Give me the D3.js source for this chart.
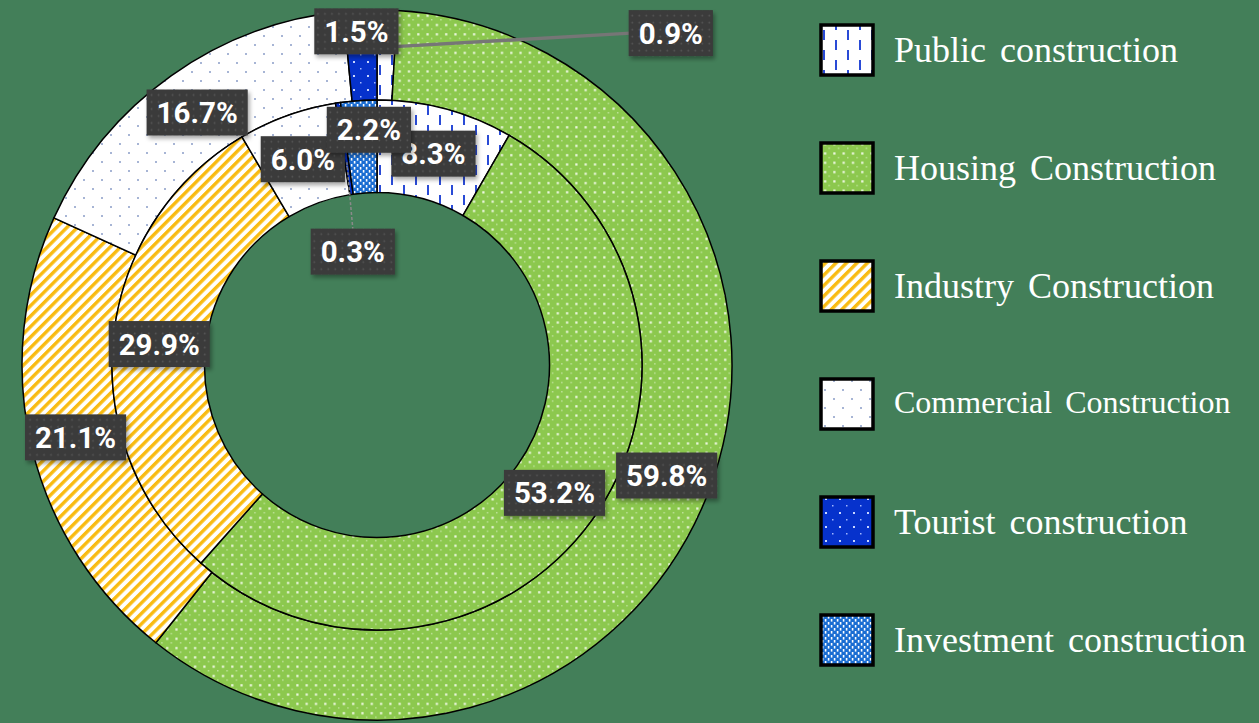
<!DOCTYPE html>
<html>
<head>
<meta charset="utf-8">
<script src="https://cdn.jsdelivr.net/npm/d3@7"></script>
<style>
  html, body { margin: 0; padding: 0; background: #437f59; }
  svg { display: block; }
</style>
</head>
<body>
<svg id="chart" width="1259" height="723"></svg>
<script>
// categories, in legend order (also clockwise order from 12 o'clock)
const categories = [
    "Public construction",
    "Housing Construction",
    "Industry Construction",
    "Commercial Construction",
    "Tourist construction",
    "Investment construction"
];
// outer ring (%)
const outerValues = [0.9, 59.8, 21.1, 16.7, 1.5, 0];
// inner ring (%)
const innerValues = [8.3, 53.2, 29.9, 6.0, 0.3, 2.2];
const patternIds = ["pat-public", "pat-housing", "pat-industry", "pat-commercial", "pat-tourist", "pat-investment"];

document.addEventListener('DOMContentLoaded', function() {
    const svg = d3.select("#chart");
    const width = +svg.attr("width");
    const height = +svg.attr("height");

    const cx = 377, cy = 365;
    const rOuter = 355, rMid = 265, rInner = 172.5;

    svg.append("rect").attr("width", width).attr("height", height).attr("fill", "#437f59");

    const defs = svg.append("defs");

    function makePattern(id, w, h, bg, transform) {
        const p = defs.append("pattern")
            .attr("id", id)
            .attr("patternUnits", "userSpaceOnUse")
            .attr("width", w)
            .attr("height", h);
        if (transform) p.attr("patternTransform", transform);
        p.append("rect").attr("width", w).attr("height", h).attr("fill", bg);
        return p;
    }

    // public: white with staggered blue dashes
    let p = makePattern("pat-public", 24, 20, "#ffffff");
    p.append("rect").attr("x", 2).attr("y", 0).attr("width", 2).attr("height", 10).attr("fill", "#2a4bd6");
    p.append("rect").attr("x", 14).attr("y", 10).attr("width", 2).attr("height", 10).attr("fill", "#2a4bd6");

    // housing: green with white dots
    p = makePattern("pat-housing", 9.3, 9.3, "#8cc84e");
    p.append("rect").attr("x", 3).attr("y", 3).attr("width", 2.2).attr("height", 2.2).attr("fill", "#eef8e2");
    p.append("rect").attr("x", 7.6).attr("y", 7.6).attr("width", 1.2).attr("height", 1.2).attr("fill", "#d7efbe");

    // industry: white with yellow diagonal stripes
    p = makePattern("pat-industry", 7.4, 7.4, "#ffffff", "rotate(45)");
    p.append("rect").attr("x", 0).attr("y", 0).attr("width", 3.4).attr("height", 7.4).attr("fill", "#f9bb12");

    // commercial: white with sparse small dots
    p = makePattern("pat-commercial", 18, 18, "#ffffff");
    p.append("circle").attr("cx", 4).attr("cy", 4).attr("r", 1).attr("fill", "#8a9cc8");
    p.append("circle").attr("cx", 13).attr("cy", 13).attr("r", 1).attr("fill", "#8a9cc8");

    // tourist: blue with white dots
    p = makePattern("pat-tourist", 14, 14, "#0632cc");
    p.append("rect").attr("x", 4).attr("y", 4).attr("width", 2).attr("height", 2).attr("fill", "#c8d6ff");
    p.append("rect").attr("x", 11).attr("y", 11).attr("width", 1.5).attr("height", 1.5).attr("fill", "#9fb5ff");

    // investment: blue checker weave
    p = makePattern("pat-investment", 6, 6, "#1a6dd2");
    p.append("rect").attr("x", 0.8).attr("y", 0).attr("width", 1.6).attr("height", 2.6).attr("fill", "#ffffff");
    p.append("rect").attr("x", 3.8).attr("y", 3).attr("width", 1.6).attr("height", 2.6).attr("fill", "#ffffff");

    // label box texture
    p = makePattern("pat-label", 7, 7, "#3a3a3a");
    p.append("circle").attr("cx", 3.5).attr("cy", 3.5).attr("r", 0.9).attr("fill", "#585858");

    const shadow = defs.append("filter").attr("id", "shadow")
        .attr("x", "-20%").attr("y", "-20%").attr("width", "140%").attr("height", "160%");
    shadow.append("feDropShadow").attr("dx", 2).attr("dy", 3).attr("stdDeviation", 2)
        .attr("flood-color", "#000").attr("flood-opacity", 0.35);

    const pie = d3.pie().sort(null).value(d => d.value);

    function ringData(values) {
        return pie(values.map((v, i) => ({ value: v, cat: categories[i], pat: patternIds[i] })));
    }

    const outerArc = d3.arc().innerRadius(rMid).outerRadius(rOuter);
    const innerArc = d3.arc().innerRadius(rInner).outerRadius(rMid);

    const outerData = ringData(outerValues).filter(d => d.data.value > 0);
    const innerData = ringData(innerValues).filter(d => d.data.value > 0);

    const g = svg.append("g").attr("transform", `translate(${cx},${cy})`);

    g.selectAll("path.outer")
        .data(outerData)
        .join("path")
        .attr("class", "outer")
        .attr("d", outerArc)
        .attr("fill", d => `url(#${d.data.pat})`)
        .attr("stroke", "#000")
        .attr("stroke-width", 1.5);

    g.selectAll("path.inner")
        .data(innerData)
        .join("path")
        .attr("class", "inner")
        .attr("d", innerArc)
        .attr("fill", d => `url(#${d.data.pat})`)
        .attr("stroke", "#000")
        .attr("stroke-width", 1.5);

    // labels sit on the slice centroid; the small slices were dragged aside
    const nudges = {
        "outer|Public construction": [285, -22],
        "outer|Tourist construction": [-6, -24],
        "inner|Investment construction": [7, -17],
        "inner|Tourist construction": [8, 103]
    };

    const labels = [];
    outerData.forEach(d => labels.push({ ring: "outer", d: d, c: outerArc.centroid(d) }));
    innerData.forEach(d => labels.push({ ring: "inner", d: d, c: innerArc.centroid(d) }));
    labels.forEach(l => {
        const n = nudges[l.ring + "|" + l.d.data.cat] || [0, 0];
        l.x = l.c[0] + n[0];
        l.y = l.c[1] + n[1];
        l.moved = n[0] !== 0 || n[1] !== 0;
    });

    const boxH = 46;

    // leader lines for dragged labels
    labels.filter(l => l.moved && (l.ring + l.d.data.cat) === "outerPublic construction").forEach(l => {
        const a = (l.d.startAngle + l.d.endAngle) / 2;
        g.append("line")
            .attr("x1", Math.sin(a) * 318).attr("y1", -Math.cos(a) * 318)
            .attr("x2", l.x - 40).attr("y2", l.y)
            .attr("stroke", "#767676").attr("stroke-width", 3.5);
    });
    labels.filter(l => l.moved && (l.ring + l.d.data.cat) === "innerTourist construction").forEach(l => {
        const a = (l.d.startAngle + l.d.endAngle) / 2;
        g.append("line")
            .attr("x1", Math.sin(a) * 205).attr("y1", -Math.cos(a) * 205)
            .attr("x2", l.x).attr("y2", l.y - boxH / 2)
            .attr("stroke", "#8a8a8a").attr("stroke-width", 1.5)
            .attr("stroke-dasharray", "3,2");
    });

    const lg = g.selectAll("g.lbl")
        .data(labels)
        .join("g")
        .attr("class", "lbl")
        .attr("transform", l => `translate(${l.x},${l.y})`);

    const boxes = lg.append("rect")
        .attr("fill", "url(#pat-label)")
        .attr("filter", "url(#shadow)");

    const texts = lg.append("text")
        .attr("text-anchor", "middle")
        .attr("y", 10.5)
        .attr("fill", "#ffffff")
        .attr("font-family", "Roboto, 'Open Sans', sans-serif")
        .attr("font-weight", "bold")
        .attr("font-size", "29.5px")
        .text(l => l.d.data.value.toFixed(1) + "%");

    texts.each(function(l) {
        l.tw = this.getComputedTextLength();
    });
    boxes
        .attr("x", l => -(l.tw + 20) / 2)
        .attr("y", -boxH / 2)
        .attr("width", l => l.tw + 20)
        .attr("height", boxH);

    // legend
    const legendY = d3.scalePoint().domain(categories).range([50, 640]);

    const leg = svg.append("g").selectAll("g")
        .data(categories)
        .join("g")
        .attr("transform", d => `translate(821,${legendY(d)})`);

    leg.append("rect")
        .attr("x", 0).attr("y", -25)
        .attr("width", 52).attr("height", 50)
        .attr("fill", (d, i) => `url(#${patternIds[i]})`)
        .attr("stroke", "#000")
        .attr("stroke-width", 3.5);

    leg.append("text")
        .attr("x", 73)
        .attr("y", (d, i) => i === 3 ? 9 : 12)
        .attr("fill", "#ffffff")
        .attr("font-family", "'Liberation Serif', 'Times New Roman', serif")
        .attr("font-size", (d, i) => i === 3 ? "32px" : "36px")
        .attr("word-spacing", "5px")
        .text(d => d);
});
</script>
</body>
</html>
